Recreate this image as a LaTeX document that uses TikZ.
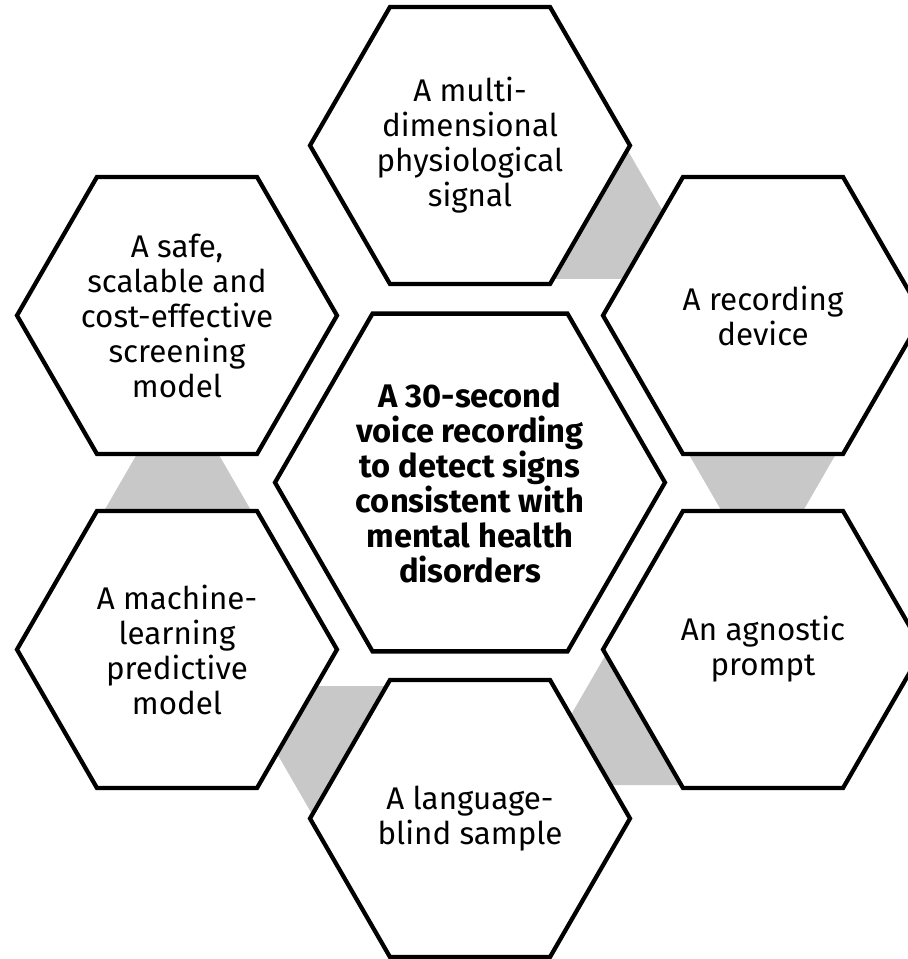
\documentclass[tikz,border=0pt]{standalone}
\usepackage{fontspec}
\setmainfont{Fira Sans}
\usetikzlibrary{shapes.geometric}
\pgfdeclarelayer{edgelayer}
\pgfdeclarelayer{nodelayer}
\pgfsetlayers{edgelayer,nodelayer,main}
\definecolor{bridgegrey}{RGB}{200,200,200}
\tikzstyle{none}=[inner sep=0pt]
\tikzstyle{cell}=[regular polygon, regular polygon sides=6, draw=black, line width=3.2pt, fill=white, inner sep=0pt, minimum size=240pt, align=center, font=\fontsize{23.5}{26.25}\selectfont]
\tikzstyle{hub}=[style=cell, minimum size=292.5pt, font=\fontsize{24.5}{26.25}\selectfont\bfseries]
\tikzstyle{bridge}=[regular polygon, regular polygon sides=6, fill=bridgegrey, inner sep=0pt, minimum size=120pt]

\begin{document}
\begin{tikzpicture}[x=0.75pt, y=0.75pt]
			\useasboundingbox (-470, -476.5) rectangle (437, 482.5);
			\begin{pgfonlayer}{edgelayer}
			\node [style=bridge] (10) at (111.9, 272.9) {};
			\node [style=bridge] (11) at (292.3, 39.5) {};
			\node [style=bridge] (12) at (180.4, -233.4) {};
			\node [style=bridge] (13) at (-111.9, -272.9) {};
			\node [style=bridge] (14) at (-292.3, -39.5) {};
			\end{pgfonlayer}
			\begin{pgfonlayer}{nodelayer}
			\node [style=hub] (0) at (0, 0) {A 30-second\\voice recording\\to detect signs\\consistent with\\mental health\\disorders};
			\node [style=cell] (1) at (0, 337) {A multi-\\dimensional\\physiological\\signal};
			\node [style=cell] (2) at (293, 167) {A recording\\device};
			\node [style=cell] (3) at (293, -167) {An agnostic\\prompt};
			\node [style=cell] (4) at (0, -336) {A language-\\blind sample};
			\node [style=cell] (5) at (-293, -167) {A machine-\\learning\\predictive\\model};
			\node [style=cell] (6) at (-293, 167) {A safe,\\scalable and\\cost-effective\\screening\\model};
			\end{pgfonlayer}
\end{tikzpicture}
\end{document}
